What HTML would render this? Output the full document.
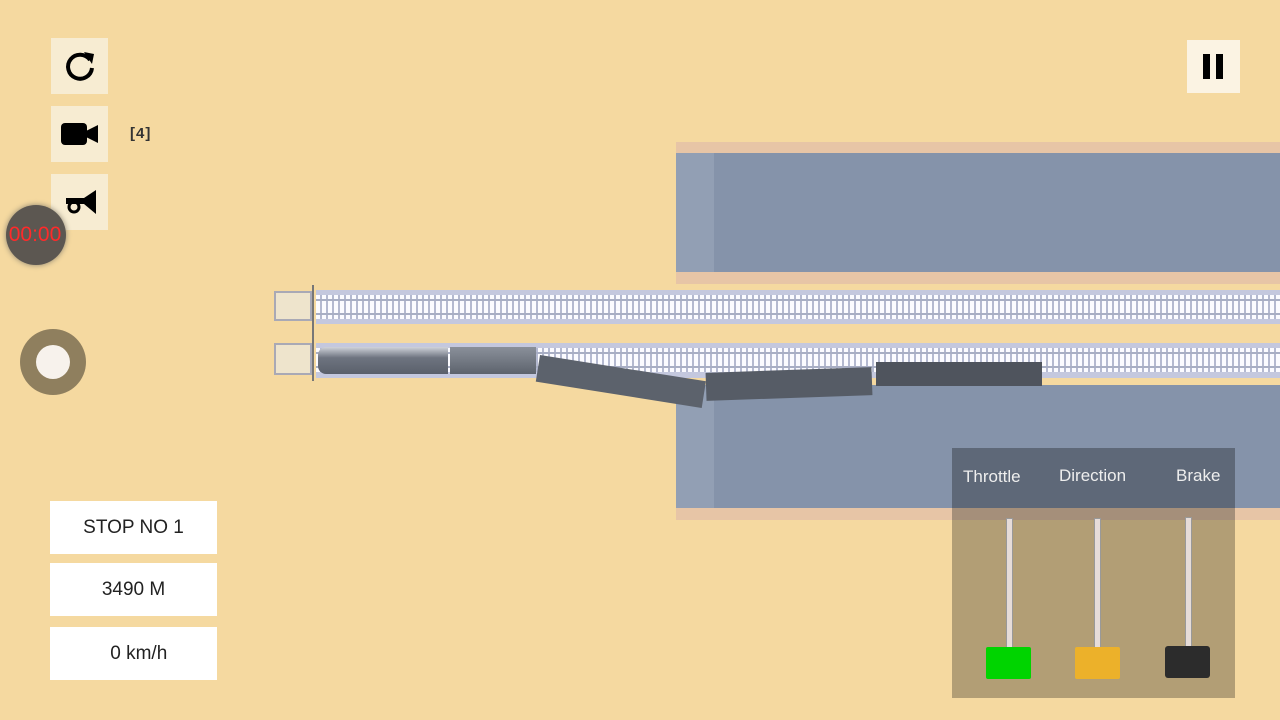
<!DOCTYPE html>
<html><head><meta charset="utf-8"><style>
body{margin:0;width:1280px;height:720px;overflow:hidden;background:#f5d9a0;position:relative;font-family:"Liberation Sans",sans-serif}
.a{position:absolute}
.btn{position:absolute;left:51px;width:57px;height:56px;background:#f7ecd2}
.track{position:absolute;left:316px;width:964px;background:#c4c8de}
.ties{position:absolute;left:0;right:0;background:repeating-linear-gradient(90deg,#fbfbff 0 4px,#b4b9d0 4px 6px)}
.box{position:absolute;left:50px;width:167px;height:53px;background:#fff;font-size:19px;color:#222;display:flex;align-items:center;justify-content:center}
</style></head><body>
<div class="a" style="left:676px;top:142px;width:604px;height:142px;background:#e7c5a6"></div>
<div class="a" style="left:676px;top:153px;width:604px;height:119px;background:#8593aa"></div>
<div class="a" style="left:676px;top:153px;width:38px;height:119px;background:#929fb4"></div>
<div class="a" style="left:676px;top:385px;width:604px;height:135px;background:#e7c5a6"></div>
<div class="a" style="left:676px;top:385px;width:604px;height:123px;background:#8593aa"></div>
<div class="a" style="left:676px;top:385px;width:38px;height:123px;background:#929fb4"></div>
<div class="track" style="top:290px;height:34px"><div class="ties" style="top:5px;height:24px"></div><div class="a" style="left:0;right:0;top:9px;height:2px;background:#a8aec4"></div><div class="a" style="left:0;right:0;top:23px;height:2px;background:#a8aec4"></div></div>
<div class="track" style="top:343px;height:35px"><div class="ties" style="top:5px;height:24px"></div><div class="a" style="left:0;right:0;top:9px;height:2px;background:#a8aec4"></div><div class="a" style="left:0;right:0;top:23px;height:2px;background:#a8aec4"></div></div>
<div class="a" style="left:274px;top:291px;width:38px;height:30px;border:2px solid #a9a9b5;box-sizing:border-box;background:#eee4cc"></div>
<div class="a" style="left:274px;top:343px;width:38px;height:32px;border:2px solid #a9a9b5;box-sizing:border-box;background:#eee4cc"></div>
<div class="a" style="left:312px;top:285px;width:2px;height:96px;background:#777"></div>
<div class="a" style="left:318px;top:347px;width:130px;height:27px;background:linear-gradient(#d0d3da,#6e7480 40%,#5a606b);border-radius:8px 0 0 8px"></div>
<div class="a" style="left:450px;top:347px;width:86px;height:27px;background:linear-gradient(#8a909a,#5d636d)"></div>
<div class="a" style="left:540px;top:355px;width:168px;height:27px;background:#5c626c;transform:rotate(9deg);transform-origin:0 0"></div>
<div class="a" style="left:706px;top:370px;width:166px;height:28px;background:#565c66;transform:rotate(-2deg)"></div>
<div class="a" style="left:876px;top:362px;width:166px;height:24px;background:#4f545d"></div>
<div class="btn" style="top:38px"></div>
<svg class="a" style="left:62px;top:48px" width="36" height="36" viewBox="0 0 36 36"><path d="M28 12A12 12 0 1 0 30 20" fill="none" stroke="#000" stroke-width="4"/><path d="M22 4L32 6 30 16Z" fill="#000"/></svg>
<div class="btn" style="top:106px"></div>
<svg class="a" style="left:60px;top:121px" width="40" height="26"><rect x="1" y="2" width="26" height="22" rx="4"/><path d="M26 10L38 4V22L26 16Z"/></svg>
<div class="a" style="left:130px;top:125px;font-size:15px;color:#333;font-weight:bold;letter-spacing:1px">[4]</div>
<div class="btn" style="top:174px;height:56px"></div>
<svg class="a" style="left:62px;top:188px" width="36" height="28"><path d="M4 10H22L34 2V26L22 16H4Z" fill="#000"/><circle cx="12" cy="19" r="5" fill="none" stroke="#000" stroke-width="3"/></svg>
<div class="a" style="left:6px;top:205px;width:60px;height:60px;border-radius:50%;background:#5c5751;box-shadow:0 0 6px #8a826f;color:#ff2a2a;font-size:21px;line-height:60px;text-align:center;overflow:hidden;white-space:nowrap;text-indent:-2px">00:00</div>
<div class="a" style="left:20px;top:329px;width:66px;height:66px;border-radius:50%;background:#8f7f5e"></div>
<div class="a" style="left:36px;top:345px;width:34px;height:34px;border-radius:50%;background:#f7f2ec"></div>
<div class="a" style="left:1187px;top:40px;width:53px;height:53px;background:#fbf3e3"></div>
<div class="a" style="left:1203px;top:54px;width:7px;height:25px;background:#000"></div>
<div class="a" style="left:1216px;top:54px;width:7px;height:25px;background:#000"></div>
<div class="box" style="top:501px">STOP NO 1</div>
<div class="box" style="top:563px">3490 M</div>
<div class="box" style="top:627px">&nbsp;&nbsp;0 km/h</div>
<div class="a" style="left:952px;top:448px;width:283px;height:60px;background:#5e6878"></div>
<div class="a" style="left:952px;top:508px;width:283px;height:190px;background:#b29e75"></div>
<div class="a" style="left:952px;top:508px;width:283px;height:12px;background:#a58f7a"></div>
<div class="a" style="left:963px;top:467px;font-size:17px;color:#eee">Throttle</div>
<div class="a" style="left:1059px;top:466px;font-size:17px;color:#eee">Direction</div>
<div class="a" style="left:1176px;top:466px;font-size:17px;color:#eee">Brake</div>
<div class="a" style="left:1006px;top:518px;width:5px;height:130px;background:#e6dcd8;border:1px solid #999"></div>
<div class="a" style="left:1094px;top:518px;width:5px;height:130px;background:#e6dcd8;border:1px solid #999"></div>
<div class="a" style="left:1185px;top:517px;width:5px;height:130px;background:#e6dcd8;border:1px solid #999"></div>
<div class="a" style="left:986px;top:647px;width:45px;height:32px;background:#00d400;border-radius:2px"></div>
<div class="a" style="left:1075px;top:647px;width:45px;height:32px;background:#ecb12a;border-radius:2px"></div>
<div class="a" style="left:1165px;top:646px;width:45px;height:32px;background:#2c2c2c;border-radius:3px"></div>
</body></html>
